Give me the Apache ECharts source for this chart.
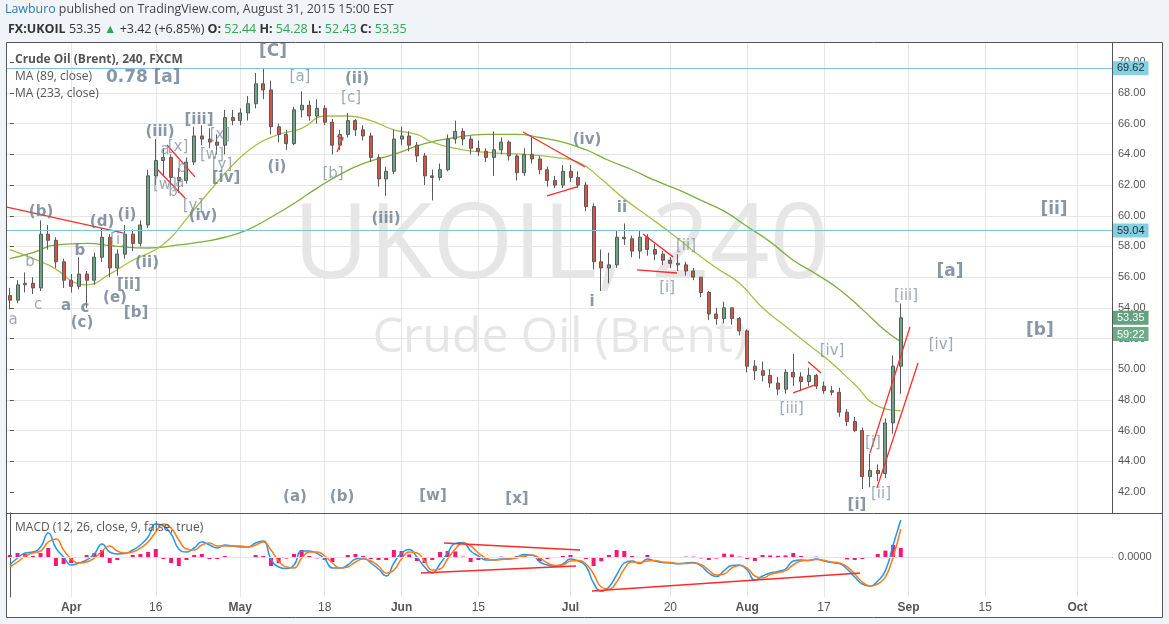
<!DOCTYPE html>
<html><head><meta charset="utf-8">
<script src="https://cdn.jsdelivr.net/npm/echarts@6/dist/echarts.min.js"></script>
<style>html,body{margin:0;padding:0;background:#fff}#c{width:1169px;height:624px}</style>
</head><body><div id="c"></div>
<script>
// ---- categories: trading days (2015), incl. empty future days ----
const dates = ['03-20','03-23','03-24','03-25','03-26','03-27','03-30','03-31',
'04-01','04-02','04-03','04-06','04-07','04-08','04-09','04-10','04-13','04-14','04-15','04-16','04-17','04-20','04-21','04-22','04-23','04-24','04-27','04-28','04-29','04-30',
'05-01','05-04','05-05','05-06','05-07','05-08','05-11','05-12','05-13','05-14','05-15','05-18','05-19','05-20','05-21','05-22','05-25','05-26','05-27','05-28','05-29',
'06-01','06-02','06-03','06-04','06-05','06-08','06-09','06-10','06-11','06-12','06-15','06-16','06-17','06-18','06-19','06-22','06-23','06-24','06-25','06-26','06-29','06-30',
'07-01','07-02','07-03','07-06','07-07','07-08','07-09','07-10','07-13','07-14','07-15','07-16','07-17','07-20','07-21','07-22','07-23','07-24','07-27','07-28','07-29','07-30','07-31',
'08-03','08-04','08-05','08-06','08-07','08-10','08-11','08-12','08-13','08-14','08-17','08-18','08-19','08-20','08-21','08-24','08-25','08-26','08-27','08-28','08-31',
'09-01','09-02','09-03','09-04','09-07','09-08','09-09','09-10','09-11','09-14','09-15','09-16','09-17','09-18','09-21','09-22','09-23','09-24','09-25','09-28','09-29','09-30',
'10-01','10-02','10-05','10-06','10-07'];

// ---- tick labels ----
const xTickDates = ['04-01','04-16','05-01','05-18','06-01','06-15','07-01','07-20','08-03','08-17','09-01','09-15','10-01'];
const xTickLabels = ['Apr','16','May','18','Jun','15','Jul','20','Aug','17','Sep','15','Oct'];
const priceTicks = [42,44,46,48,50,52,54,56,58,60,62,64,66,68,70];

// ---- OHLC (one candle per trading day) ----
const opens = [54.8,54.5,55.5,55.6,55.3,58.8,58.4,57.0,55.8,55.4, 56.2,55.8,57.3,58.6,56.6,57.5,58.8,58.2,59.4,62.6, 63.6,63.8,62.5,62.3,63.5,65.2,65.0,64.8,64.6,66.4, 66.2,66.7,67.3,68.6,68.2,65.8,65.3,64.7,66.9,67.2, 66.5,67.0,66.1,64.6,65.3,66.2,65.6,65.2,63.8,62.4, 62.9,65.0,65.2,64.6,63.9,62.6,62.5,63.0,65.0,65.5, 65.0,64.4,64.2,63.8,64.3,64.8,63.9,62.8,64.0,63.7, 63.0,62.3,62.0,62.9,62.5,62.0,60.6,57.0,56.6,56.8, 58.6,58.5,57.7,58.6,57.8,57.5,57.1,56.9,56.8,56.4, 56.0,55.0,53.6,53.3,54.0,53.3,52.5,50.2,49.9,49.6, 49.1,48.7,49.8,49.5,49.2,49.6,48.9,48.6,48.5,47.2, 46.6,46.0,43.0,43.4,43.2,46.5,50.2];
const highs = [55.3,55.8,56.3,56.0,59.7,59.4,58.6,57.2,56.2,57.3, 56.4,57.6,59.2,58.8,57.8,59.4,59.1,59.7,63.0,65.0, 64.4,64.0,63.1,63.8,65.8,65.9,65.7,65.3,66.9,66.9, 67.0,67.8,69.3,69.62,68.8,66.0,65.6,67.1,68.1,67.5, 67.6,67.2,66.3,65.6,66.7,66.3,65.9,65.4,64.0,63.2, 65.6,65.8,65.5,64.8,64.1,63.0,63.4,65.3,66.2,65.7, 65.2,64.9,64.4,65.5,65.1,64.9,64.0,64.4,65.1,63.9, 63.2,62.6,63.3,63.3,62.9,62.2,60.8,57.8,57.6,59.0, 59.5,58.7,59.0,58.8,58.2,57.7,57.3,57.5,57.0,56.6, 56.0,55.1,54.0,54.4,54.0,53.4,52.6,50.6,50.5,50.0, 49.5,50.0,51.0,49.8,50.1,49.7,49.2,48.9,48.8,47.4, 46.9,46.2,44.5,43.8,46.8,50.9,54.28];
const lows = [53.9,54.3,55.0,54.9,55.1,57.8,56.6,55.3,55.0,55.2, 54.0,55.5,57.0,56.0,56.1,57.2,57.7,58.0,59.2,62.0, 62.6,61.9,61.5,62.1,63.3,64.6,64.4,64.0,64.0,65.9, 65.9,66.2,67.0,67.6,65.3,64.8,64.3,64.6,66.4,66.2, 66.0,65.9,64.0,64.3,65.1,65.2,64.9,63.5,61.9,61.3, 62.7,64.6,64.2,63.5,62.0,61.0,62.3,62.9,64.7,64.6, 64.0,63.9,63.5,62.6,64.0,63.6,62.3,62.6,63.4,62.7, 61.9,61.8,61.8,62.2,61.8,60.3,56.5,55.1,55.6,56.6, 58.1,57.3,57.2,57.4,57.1,56.8,56.6,56.4,56.1,55.8, 54.7,53.2,52.9,53.0,52.9,52.2,49.8,49.3,49.2,48.8, 48.3,48.4,48.9,48.6,48.9,48.7,48.4,48.3,46.9,46.3, 45.9,42.2,42.3,42.7,42.9,45.8,48.4];
const closes = [54.5,55.5,55.6,55.3,58.8,58.4,57.0,55.8,55.4,56.2, 55.8,57.3,58.6,56.6,57.5,58.8,58.2,59.4,62.6,63.6, 63.8,62.5,62.3,63.5,65.2,65.0,64.8,64.6,66.4,66.2, 66.7,67.3,68.6,68.2,65.8,65.3,64.7,66.9,67.2,66.5, 67.0,66.1,64.6,65.3,66.2,65.6,65.2,63.8,62.4,62.9, 65.0,65.2,64.6,63.9,62.6,62.5,63.0,65.0,65.5,65.0, 64.4,64.2,63.8,64.3,64.8,63.9,62.8,64.0,63.7,63.0, 62.3,62.0,62.9,62.5,62.0,60.6,57.0,56.6,56.8,58.6, 58.5,57.7,58.6,57.8,57.5,57.1,56.9,56.8,56.4,56.0, 55.0,53.6,53.3,54.0,53.3,52.5,50.2,49.9,49.6,49.1, 48.7,49.8,49.5,49.2,49.6,48.9,48.6,48.5,47.2,46.6, 46.0,43.0,43.4,43.2,46.5,50.2,53.35];

// ---- moving averages ----
const ma89 = [['03-20',57.8],['03-27',56.8],['04-03',55.5],['04-08',56.2],['04-13',57.1],['04-16',57.8],['04-20',58.6],['04-22',59.8],['04-27',61.6],['04-30',63.3],['05-05',64.6],['05-08',65.3],['05-13',65.7],['05-18',66.5],['05-21',66.5],['05-26',66.2],['05-29',65.6],['06-03',65.3],['06-05',64.8],['06-11',64.3],['06-17',64.1],['06-23',64.0],['06-29',63.8],['07-02',63.5],['07-07',62.4],['07-10',61.1],['07-15',60.0],['07-20',58.9],['07-23',57.7],['07-28',56.6],['07-31',55.6],['08-05',54.0],['08-10',52.8],['08-13',51.6],['08-18',50.4],['08-21',49.0],['08-26',47.6],['08-31',47.3]];
const ma233 = [['03-20',57.2],['03-25',57.6],['03-30',58.1],['04-03',58.2],['04-09',58.0],['04-15',57.9],['04-21',58.1],['04-24',58.3],['04-29',58.6],['05-04',59.1],['05-07',59.9],['05-12',60.8],['05-15',61.8],['05-20',62.7],['05-25',63.4],['05-29',64.0],['06-04',64.7],['06-10',65.1],['06-16',65.3],['06-22',65.3],['06-25',65.1],['06-30',64.8],['07-03',64.3],['07-08',63.6],['07-13',63.0],['07-16',62.3],['07-21',61.7],['07-24',61.0],['07-29',60.3],['08-03',59.3],['08-06',58.3],['08-11',57.1],['08-14',56.2],['08-19',55.2],['08-24',53.9],['08-27',52.5],['08-31',51.8]];

// ---- MACD panel ----
const macdLine = [-0.4,-0.05,0.2,0.25,0.5,1.2,0.45,0.0,-0.4,-0.3, -0.15,0.15,0.65,0.25,0.15,0.17,0.35,0.6,1.0,1.65, 1.55,1.15,0.4,0.25,0.45,0.75,0.6,0.45,0.6,0.55, 0.5,0.5,0.7,0.8,-0.1,-0.5,-0.58,-0.4,0.3,0.3, 0.18,-0.1,-0.55,-0.55,-0.4,-0.1,-0.05,-0.3,-0.6,-0.95, -0.3,0.2,0.38,0.0,-0.5,-0.8,-0.35,0.2,0.68,0.72, 0.3,0.05,-0.15,-0.15,-0.1,-0.1,0.0,0.12,0.1,-0.25, -0.4,-0.47,-0.35,-0.1,-0.2,-0.45,-1.3,-1.71,-1.5,-0.9, -0.3,-0.2,-0.33,-0.1,-0.2,-0.28,-0.3,-0.34,-0.3,-0.28, -0.45,-0.8,-0.98,-0.68,-0.42,-0.4,-0.65,-1.15,-0.95,-0.8, -0.72,-0.6,-0.2,-0.15,-0.17,-0.1,-0.2,-0.28,-0.33,-0.6, -1.0,-1.35,-1.45,-1.2,-0.68,0.6,1.85];
const macdSignal = [-0.5,-0.25,0.05,0.2,0.3,0.75,0.9,0.35,-0.1,-0.3, -0.25,-0.05,0.3,0.55,0.3,0.2,0.25,0.45,0.75,1.25, 1.65,1.45,0.85,0.4,0.35,0.6,0.7,0.55,0.55,0.55, 0.55,0.5,0.6,0.75,0.35,-0.2,-0.5,-0.55,-0.05,0.25, 0.25,0.05,-0.3,-0.55,-0.5,-0.25,-0.1,-0.2,-0.45,-0.8, -0.65,-0.1,0.25,0.2,-0.2,-0.65,-0.6,-0.1,0.4,0.7, 0.55,0.2,-0.05,-0.15,-0.12,-0.1,-0.05,0.05,0.1,-0.05, -0.3,-0.42,-0.4,-0.2,-0.18,-0.35,-0.85,-1.5,-1.6,-1.25, -0.6,-0.25,-0.28,-0.2,-0.18,-0.25,-0.28,-0.32,-0.32,-0.3, -0.38,-0.65,-0.9,-0.85,-0.55,-0.42,-0.55,-0.95,-1.05,-0.88, -0.78,-0.68,-0.4,-0.2,-0.17,-0.12,-0.16,-0.25,-0.3,-0.48, -0.85,-1.25,-1.45,-1.35,-1.0,0.0,1.4];
const macdHist = [0.1,0.2,0.15,0.05,0.2,0.45,-0.45,-0.35,-0.3,0.0, 0.1,0.2,0.35,-0.3,-0.15,-0.03,0.1,0.15,0.25,0.4, -0.1,-0.3,-0.45,-0.15,0.1,0.15,-0.1,-0.1,0.05,0.0, -0.05,0.0,0.1,0.05,-0.45,-0.3,-0.08,0.15,0.35,0.05, -0.07,-0.15,-0.25,0.0,0.1,0.15,0.05,-0.1,-0.15,-0.15, 0.35,0.3,0.13,-0.2,-0.3,-0.15,0.25,0.3,0.28,0.02, -0.25,-0.15,-0.1,0.0,0.02,0.0,0.05,0.07,0.0,-0.2, -0.1,-0.05,0.05,0.1,-0.02,-0.1,-0.45,-0.21,0.1,0.35, 0.3,0.05,-0.05,0.1,-0.02,-0.03,-0.02,-0.02,0.02,0.02, -0.07,-0.15,-0.08,0.17,0.13,0.02,-0.1,-0.2,0.1,0.08, 0.06,0.08,0.2,0.05,0.0,0.02,-0.04,-0.03,-0.03,-0.12, -0.15,-0.1,0.0,0.15,0.32,0.6,0.45];

// ---- horizontal levels ----
const hLevels = [69.62, 59.04];
const lastClose = 53.35;

// ---- drawn trendlines: [[dayPos, price],[dayPos, price]] ----
const priceTrendlines = [[[-0.37,60.57],[14.73,58.88]],[[20.46,64.61],[24.11,62.53]],[[19.29,62.98],[22.81,61.16]],[[42.6,65.2],[43.4,64.94]],[[42.6,64.16],[43.4,65.13]],[[66.82,65.46],[74.89,63.18]],[[69.94,61.29],[73.85,61.88]],[[82.44,58.81],[86.35,57.32]],[[81.66,56.47],[86.87,56.27]],[[103.93,50.48],[105.62,49.76]],[[101.98,48.46],[104.84,48.98]],[[112.0,44.55],[117.2,52.76]],[[112.9,42.27],[118.25,50.41]]];
const macdTrendlines = [[[56.53,0.70],[74.24,0.35]],[[53.53,-0.80],[73.72,-0.45]],[[75.8,-1.70],[110.7,-0.80]]];

// ---- wave labels: [text, dayPos, price, kind] ----
const waveLabels = [
 ['(b)',4.06,60.25,'B'],['a',7.31,54.12,'B'],['b',9.13,57.70,'B'],['c',9.79,53.99,'B'],['(c)',9.40,53.01,'B'],
 ['(d)',12.0,59.59,'B'],['(e)',13.69,54.64,'B'],['(i)',15.25,60.05,'B'],['[ii]',15.51,55.49,'B'],['[b]',16.43,53.66,'B'],
 ['(ii)',17.86,56.92,'B'],['(iii)',19.55,65.46,'B'],['[iii]',24.63,66.24,'B'],['[iv]',28.14,62.46,'B'],['(iv)',25.15,59.98,'B'],
 ['(i)',34.78,63.18,'B'],['[C]',34.26,70.67,'L'],['0.78',15.25,68.98,'L'],['[a]',20.46,68.98,'L'],['(ii)',45.2,68.91,'B'],
 ['(iii)',48.98,59.79,'B'],['(iv)',75.15,64.94,'B'],['ii',79.7,60.51,'B'],['i',75.8,54.38,'B'],['[i]',110.3,41.15,'B'],
 ['[a]',122.4,56.34,'L'],['[b]',134.1,52.49,'L'],['[ii]',135.95,60.38,'L'],
 ['(a)',37.13,41.67,'B'],['(b)',43.25,41.67,'B'],['[w]',55.1,41.74,'B'],['[x]',66.03,41.54,'B'],
 ['a',0.41,53.21,'R'],['b',2.62,56.99,'R'],['c',3.67,54.19,'R'],['[i]',14.08,58.42,'R'],
 ['a',20.2,64.29,'R'],['[x]',21.89,64.48,'R'],['b',22.42,63.11,'R'],['[w]',20.2,62.0,'R'],['a',22.15,62.14,'R'],['b',21.24,61.55,'R'],['[y]',23.85,60.64,'R'],
 ['[x]',27.36,65.26,'R'],['[w]',26.32,63.96,'R'],['[y]',27.62,63.31,'R'],
 ['[a]',37.78,69.04,'R'],['[c]',44.42,67.67,'R'],['[b]',42.08,62.72,'R'],
 ['[ii]',88.04,58.03,'R'],['[i]',85.57,55.29,'R'],['[iii]',101.8,47.41,'R'],['[iv]',107.05,51.19,'R'],
 ['[i]',112.38,45.19,'R'],['[ii]',113.42,41.87,'R'],['[iii]',116.68,54.77,'R'],['[iv]',121.24,51.58,'R']
];

// ---------------------------------------------------------------
const N = dates.length;
const candleData = opens.map((o, i) => [o, closes[i], lows[i], highs[i]]);
const labelStyles = {
  B: {fontFamily: 'DejaVu Sans', fontWeight: 'bold', fontSize: 15, color: '#6b7c8e'},
  L: {fontFamily: 'DejaVu Sans', fontWeight: 'bold', fontSize: 17, color: '#6b7c8e'},
  R: {fontFamily: 'DejaVu Sans', fontWeight: 'normal', fontSize: 15, color: '#8494a5'}
};
const isTick = (i, v) => xTickDates.indexOf(v) >= 0;
const GRIDC = '#e6e6e6', FRAME = '#555', BG = '#f0f3f7', TXT = '#555';
const badge = (bg, fg) => ({position: 'end', distance: 1, formatter: p => p.value.toFixed(2), backgroundColor: bg,
  color: fg, padding: [2, 4, 1, 4], fontSize: 11, fontFamily: 'Liberation Sans'});

const chart = echarts.init(document.getElementById('c'), null, {renderer: 'canvas'});
chart.setOption({
  animation: false,
  backgroundColor: '#ffffff',
  title: [
    {left: 5, top: 3, padding: 0, z: 20, text: '{u|Lawburo} published on TradingView.com, August 31, 2015 15:00 EST',
     textStyle: {fontFamily: 'Open Sans', fontSize: 12.4, fontWeight: 'normal', color: '#444',
       rich: {u: {fontFamily: 'Open Sans', fontSize: 12.4, color: '#2a7bbf'}}}},
    {left: 8, top: 23, padding: 0, z: 20,
     text: '{b|FX:UKOIL} 53.35 {g|▲} +3.42 (+6.85%) {b|O:} {g|52.44} {b|H:} {g|54.28} {b|L:} {g|52.43} {b|C:} {g|53.35}',
     textStyle: {fontFamily: 'Open Sans', fontSize: 12.5, fontWeight: 'normal', color: '#333',
       rich: {b: {fontFamily: 'Open Sans', fontSize: 12.5, fontWeight: 'bold', color: '#333'},
              g: {fontFamily: 'Open Sans', fontSize: 12.5, color: '#2fa84f'}}}},
    {left: 15, top: 54, padding: 0, z: 20, text: 'Crude Oil (Brent), 240, FXCM',
     textStyle: {fontFamily: 'Open Sans', fontSize: 12, fontWeight: 'bold', color: TXT}},
    {left: 15, top: 71, padding: 0, z: 20, text: 'MA (89, close)',
     textStyle: {fontFamily: 'Open Sans', fontSize: 12, fontWeight: 'normal', color: TXT}},
    {left: 15, top: 88, padding: 0, z: 20, text: 'MA (233, close)',
     textStyle: {fontFamily: 'Open Sans', fontSize: 12, fontWeight: 'normal', color: TXT}},
    {left: 15, top: 522, padding: 0, z: 20, text: 'MACD (12, 26, close, 9, false, true)',
     textStyle: {fontFamily: 'Open Sans', fontSize: 12, fontWeight: 'normal', color: TXT}}
  ],
  grid: [
    {left: 6, right: 57, top: 31.6, height: 491.1, show: false},
    {left: 6, right: 57, top: 513, height: 84, show: false}
  ],
  xAxis: [
    {type: 'category', gridIndex: 0, data: dates, boundaryGap: true,
     axisLine: {show: false}, axisTick: {show: false}, axisLabel: {show: false},
     splitLine: {show: true, alignWithLabel: true, interval: isTick, lineStyle: {color: GRIDC}}},
    {type: 'category', gridIndex: 1, data: dates, boundaryGap: true,
     axisLine: {show: true, lineStyle: {color: FRAME}}, axisTick: {show: false},
     axisLabel: {interval: isTick, margin: 5, color: TXT, fontSize: 12, fontFamily: 'Liberation Sans',
       formatter: v => { const t = xTickLabels[xTickDates.indexOf(v)] || ''; return isNaN(+t) ? '{m|' + t + '}' : t; },
       rich: {m: {fontWeight: 'bold', fontSize: 12, fontFamily: 'Liberation Sans', color: TXT}}},
     splitLine: {show: true, alignWithLabel: true, interval: isTick, lineStyle: {color: GRIDC}}},
    {type: 'value', gridIndex: 0, position: 'top', min: -0.5, max: N - 0.5, show: false},
    {type: 'value', gridIndex: 1, position: 'top', min: -0.5, max: N - 0.5, show: false}
  ],
  yAxis: [
    {type: 'value', gridIndex: 0, position: 'right', min: 40, max: 72, interval: 2,
     axisLine: {show: false},
     axisTick: {show: true, length: 4, lineStyle: {color: FRAME}, customValues: priceTicks},
     axisLabel: {customValues: priceTicks, margin: 6, color: TXT, fontSize: 11, fontFamily: 'Liberation Sans',
       formatter: v => (v < 41 || v > 71) ? '' : v.toFixed(2)},
     splitLine: {show: true, showMinLine: false, showMaxLine: false, lineStyle: {color: GRIDC}}},
    {type: 'value', gridIndex: 1, position: 'right', min: -2, max: 2.2, interval: 1,
     axisLine: {show: true, lineStyle: {color: FRAME}},
     axisTick: {show: true, length: 4, lineStyle: {color: FRAME}, customValues: [0]},
     axisLabel: {customValues: [0], margin: 6, color: TXT, fontSize: 11, fontFamily: 'Liberation Sans',
       formatter: v => v === 0 ? '0.0000' : ''},
     splitLine: {show: false}}
  ],
  series: [
    {type: 'line', name: 'MA 233', xAxisIndex: 0, yAxisIndex: 0, data: ma233, smooth: true, showSymbol: false, z: 2,
     lineStyle: {color: '#7caf3c', width: 1.3}},
    {type: 'line', name: 'MA 89', xAxisIndex: 0, yAxisIndex: 0, data: ma89, smooth: true, showSymbol: false, z: 2,
     lineStyle: {color: '#a3c04a', width: 1.3}},
    {type: 'candlestick', name: 'UKOIL', xAxisIndex: 0, yAxisIndex: 0, data: candleData, barWidth: 3.5, z: 3,
     itemStyle: {color: '#6ba583', color0: '#d75442', borderColor: '#5a5a5a', borderColor0: '#5a5a5a', borderWidth: 1},
     markLine: {symbol: ['none', 'none'], silent: true, animation: false,
       data: [
         {yAxis: hLevels[0], lineStyle: {color: '#79c7d8', width: 1, type: 'solid'}, label: badge('#84cfe0', '#1f2d38')},
         {yAxis: hLevels[1], lineStyle: {color: '#79c7d8', width: 1, type: 'solid'}, label: badge('#84cfe0', '#1f2d38')}
       ]}},
    {type: 'line', name: 'last', xAxisIndex: 0, yAxisIndex: 0, data: [], silent: true,
     markLine: {symbol: ['none', 'none'], silent: true, animation: false,
       data: [{yAxis: lastClose, lineStyle: {color: 'rgba(0,0,0,0)', width: 1}, label: badge('#64a27f', '#ffffff')}]}},
    {type: 'lines', coordinateSystem: 'cartesian2d', xAxisIndex: 2, yAxisIndex: 0, silent: true, z: 4,
     data: priceTrendlines.map(c => ({coords: c})), lineStyle: {color: '#ff2b2b', width: 1.3, opacity: 1}},
    {type: 'scatter', xAxisIndex: 2, yAxisIndex: 0, symbolSize: 0, silent: true, z: 5,
     itemStyle: {color: 'transparent'},
     data: waveLabels.map(w => ({name: w[0], value: [w[1], w[2]], label: labelStyles[w[3]]})),
     label: {show: true, position: 'inside', formatter: p => p.name}},
    {type: 'bar', xAxisIndex: 1, yAxisIndex: 1, data: macdHist, barWidth: 4, z: 2,
     itemStyle: {color: '#ff1675'}},
    {type: 'line', xAxisIndex: 1, yAxisIndex: 1, data: macdLine, smooth: true, showSymbol: false, z: 3,
     lineStyle: {color: '#2196f3', width: 1.5},
     markLine: {symbol: ['none', 'none'], silent: true, label: {show: false},
       data: [{yAxis: 0}], lineStyle: {color: GRIDC, width: 1, type: 'solid'}}},
    {type: 'line', xAxisIndex: 1, yAxisIndex: 1, data: macdSignal, smooth: true, showSymbol: false, z: 3,
     lineStyle: {color: '#ff7b16', width: 1.5}},
    {type: 'lines', coordinateSystem: 'cartesian2d', xAxisIndex: 3, yAxisIndex: 1, silent: true, z: 4,
     data: macdTrendlines.map(c => ({coords: c})), lineStyle: {color: '#ff2b2b', width: 1.3, opacity: 1}}
  ],
  graphic: [
    {type: 'text', z: 1, silent: true, x: 561, y: 300,
     style: {text: 'UKOIL, 240', font: '104px "Open Sans"', fill: '#e6e6e6', textAlign: 'center', textVerticalAlign: 'bottom'}},
    {type: 'text', z: 1, silent: true, x: 560, y: 362,
     style: {text: 'Crude Oil (Brent)', font: '48px "Open Sans"', fill: '#e6e6e6', textAlign: 'center', textVerticalAlign: 'bottom'}},
    {type: 'rect', z: 15, silent: true, shape: {x: 0, y: 0, width: 1169, height: 42}, style: {fill: BG}},
    {type: 'rect', z: 15, silent: true, shape: {x: 0, y: 42, width: 6, height: 582}, style: {fill: BG}},
    {type: 'rect', z: 15, silent: true, shape: {x: 1163, y: 42, width: 6, height: 582}, style: {fill: BG}},
    {type: 'rect', z: 15, silent: true, shape: {x: 0, y: 618, width: 1169, height: 6}, style: {fill: BG}},
    {type: 'rect', z: 16, silent: true, shape: {x: 6.5, y: 42.5, width: 1156, height: 575}, style: {fill: 'none', stroke: FRAME, lineWidth: 1}},
    {type: 'line', z: 16, silent: true, shape: {x1: 6.5, y1: 513.5, x2: 1162.5, y2: 513.5}, style: {stroke: FRAME, lineWidth: 1}},
    {type: 'line', z: 16, silent: true, shape: {x1: 1112.5, y1: 42.5, x2: 1112.5, y2: 513.5}, style: {stroke: FRAME, lineWidth: 1}},
    {type: 'text', z: 16, silent: true, x: 1113, y: 327,
     style: {text: '59:22', font: '11px "Liberation Sans"', fill: '#ffffff', backgroundColor: '#6eab88', padding: [2, 4, 1, 4]}}
  ]
});
</script>
</body></html>
